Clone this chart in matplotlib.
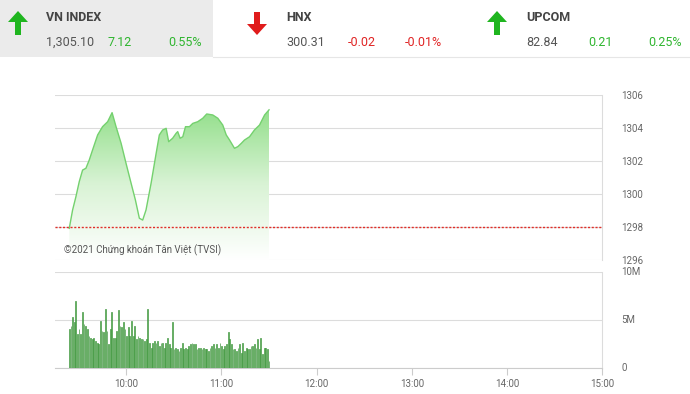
import numpy as np
import matplotlib
matplotlib.use("Agg")
import matplotlib.pyplot as plt
from matplotlib.patches import Polygon, Rectangle
from matplotlib.colors import LinearSegmentedColormap
from matplotlib.ticker import FixedLocator

# ---------------- data ----------------
# minutes since 09:00
idx_time = [24, 26.1, 28.2, 30.3, 32.4, 34.5, 36.6, 38.7, 41.9, 45.0, 48.2, 51.0,
            53.5, 56.7, 59.8, 63.0, 65.7, 68.2, 70.3, 72.4, 75.6, 78.8, 80.8, 82.9,
            85.1, 86.7, 89.2, 91.4, 92.4, 93.9, 95.6, 97.3, 99.8, 101.9, 105.0, 108.2,
            110.7, 114.5, 117.7, 120.8, 123.0, 125.1, 128.2, 130.3, 132.5, 134.5,
            137.7, 140.8, 144.0, 147.2, 150.0]
idx_value = [1297.92, 1299.03, 1299.84, 1300.75, 1301.45, 1301.56, 1302.06, 1302.67,
             1303.58, 1304.08, 1304.38, 1304.93, 1304.08, 1303.07, 1301.86, 1300.65,
             1299.64, 1298.53, 1298.42, 1299.03, 1300.65, 1302.47, 1303.58, 1303.88,
             1303.98, 1303.17, 1303.38, 1303.68, 1303.78, 1303.38, 1303.47, 1304.08,
             1304.08, 1304.28, 1304.38, 1304.59, 1304.85, 1304.79, 1304.59, 1304.18,
             1303.58, 1303.27, 1302.77, 1302.87, 1303.07, 1303.27, 1303.47, 1303.88,
             1304.18, 1304.79, 1305.10]
ref_value = 1297.98

volume_m = [4.05, 4.40, 5.28, 4.75, 6.94, 3.52, 4.05, 3.52, 5.81, 4.58, 4.40, 4.05,
            3.35, 3.17, 2.99, 3.17, 2.82, 2.64, 2.46, 4.93, 3.87, 3.70, 6.16, 3.87,
            2.46, 4.05, 5.88, 3.17, 3.17, 3.87, 5.99, 4.40, 4.23, 4.75, 4.05, 3.35,
            4.23, 3.35, 4.93, 3.35, 4.40, 2.99, 3.35, 3.17, 2.99, 2.99, 2.82, 2.99,
            6.16, 2.64, 2.11, 2.64, 2.82, 2.64, 2.82, 2.29, 2.64, 2.64, 2.11, 2.64,
            3.17, 2.46, 2.11, 4.75, 1.94, 2.11, 1.94, 1.76, 2.11, 2.64, 1.94, 2.11,
            1.94, 2.29, 2.46, 2.64, 2.46, 2.46, 1.94, 2.11, 2.11, 1.94, 2.11, 1.94,
            1.94, 1.76, 2.11, 2.29, 2.46, 2.11, 2.46, 2.11, 2.64, 2.29, 1.94, 2.29,
            2.46, 3.70, 2.99, 2.46, 1.94, 1.94, 1.76, 2.11, 2.46, 1.58, 2.64, 1.76,
            2.11, 1.94, 1.94, 2.29, 2.29, 2.46, 2.11, 2.99, 1.94, 3.17, 1.41, 2.11,
            2.11, 1.94, 0.70]
vol_time = np.linspace(24, 150, len(volume_m))

price_ticks = [1296, 1298, 1300, 1302, 1304, 1306]
vol_ticks = [0, 5, 10]
vol_labels = ["0", "5M", "10M"]
hour_ticks = [60, 120, 180, 240, 300, 360]
hour_labels = ["10:00", "11:00", "12:00", "13:00", "14:00", "15:00"]
x_range = (15, 360)  # 09:15 .. 15:00

header = [
    # name, value, change, pct, up
    ("VN INDEX", "1,305.10", "7.12", "0.55%", True),
    ("HNX", "300.31", "-0.02", "-0.01%", False),
    ("UPCOM", "82.84", "0.21", "0.25%", True),
]

# ---------------- figure ----------------
W, H = 690, 394
fig = plt.figure(figsize=(W / 100, H / 100), dpi=100)
fig.patch.set_facecolor("white")

GREEN_T = "#2fb52f"
RED_T = "#e02424"
GREY = "#666666"
GRID = "#dcdcdc"
hfont = ["Roboto", "DejaVu Sans"]
tfont = ["Roboto", "DejaVu Sans"]

def px_axes(x0, y_top, x1, y_bot):
    return fig.add_axes([x0 / W, 1 - y_bot / H, (x1 - x0) / W, (y_bot - y_top) / H])

# overlay for header (pixel coordinates)
ov = fig.add_axes([0, 0, 1, 1], zorder=-1)
ov.set_xlim(0, W)
ov.set_ylim(H, 0)
ov.axis("off")
ov.add_patch(Rectangle((0, 0), 213, 57, facecolor="#ebebeb", edgecolor="none"))
ov.plot([213, W], [57, 57], color="#e6e6e6", lw=0.8)

col_x = [0, 240, 480]
for (name, val, chg, pct, up), cx in zip(header, col_x):
    ax0 = cx + 18 if cx == 0 else cx + 17
    color = "#1fb51f" if up else "#e01b1b"
    if up:
        pts = [(ax0, 11), (ax0 + 10, 22), (ax0 + 3, 22), (ax0 + 3, 35),
               (ax0 - 3, 35), (ax0 - 3, 22), (ax0 - 10, 22)]
    else:
        pts = [(ax0, 35), (ax0 + 10, 24), (ax0 + 3, 24), (ax0 + 3, 12),
               (ax0 - 3, 12), (ax0 - 3, 24), (ax0 - 10, 24)]
    ov.add_patch(Polygon(pts, closed=True, facecolor=color, edgecolor="none"))
    tx = cx + 46
    vc = GREEN_T if up else RED_T
    ov.text(tx, 17, name, fontsize=9, family=hfont, fontweight="bold",
            color="#444444", va="center", ha="left")
    ov.text(tx, 42, val, fontsize=9, family=hfont, color="#555555",
            va="center", ha="left")
    ov.text(tx + 62, 42, chg, fontsize=9, family=hfont, color=vc,
            va="center", ha="left")
    ov.text(tx + 156, 42, pct, fontsize=9, family=hfont, color=vc,
            va="center", ha="right")

# ---------------- price panel ----------------
ax = px_axes(55, 95, 602, 260)

t = np.array(idx_time)
v = np.array(idx_value)
poly_pts = np.column_stack([np.r_[t, t[-1], t[0]], np.r_[v, 1296, 1296]])
poly = Polygon(poly_pts, closed=True, transform=ax.transData,
               facecolor="none", edgecolor="none")
ax.add_patch(poly)
cmap = LinearSegmentedColormap.from_list("g", ["#ffffff", "#d9f3d5", "#93df8b"])
grad = np.linspace(0, 1, 256).reshape(-1, 1)
im = ax.imshow(grad, extent=[t[0], t[-1], 1296, v.max()], origin="lower",
               cmap=cmap, aspect="auto", zorder=1, interpolation="bilinear")
im.set_clip_path(poly)
ax.plot(t, v, color="#74d16e", lw=1.0, zorder=3)
ax.axhline(ref_value, color="#e0302a", lw=1.0, ls=(0, (1.5, 1.2)), zorder=4)
ax.set_xlim(*x_range)
ax.set_ylim(1296, 1306)

ax.yaxis.set_major_locator(FixedLocator(price_ticks))
ax.yaxis.tick_right()
ax.tick_params(axis="y", length=0, pad=14, labelsize=7, labelcolor=GREY)
for lab in ax.get_yticklabels():
    lab.set_family(tfont)
ax.set_xticks([])
ax.grid(axis="y", color=GRID, lw=0.8, zorder=0)
for s in ["left", "top", "bottom"]:
    ax.spines[s].set_visible(False)
ax.spines["right"].set_color(GRID)
ax.set_axisbelow(True)
ax.text(64, 250, "\u00a92021 Ch\u1ee9ng kho\u00e1n T\u00e2n Vi\u1ec7t (TVSI)",
        transform=ov.transData, fontsize=7, family=tfont, color="#555555",
        va="center", ha="left", zorder=6)

# ---------------- volume panel ----------------
bx = px_axes(55, 272, 602, 368)
bx.bar(vol_time, volume_m, width=0.5, color="#9ad994", edgecolor="#2e8a2e",
       linewidth=0.45, zorder=3)
bx.set_xlim(*x_range)
bx.set_ylim(0, 10)
bx.yaxis.set_major_locator(FixedLocator(vol_ticks))
bx.set_yticklabels(vol_labels)
bx.yaxis.tick_right()
bx.tick_params(axis="y", length=0, pad=14, labelsize=7, labelcolor=GREY)
bx.set_xticks(hour_ticks)
bx.set_xticklabels(hour_labels)
bx.tick_params(axis="x", length=5, width=0.8, color="#cccccc", pad=3,
               labelsize=7, labelcolor=GREY)
for lab in bx.get_yticklabels() + bx.get_xticklabels():
    lab.set_family(tfont)
for lab in bx.get_yticklabels():
    lab.set_va("center")
bx.grid(axis="y", color=GRID, lw=0.8, zorder=0)
for s in ["left", "top"]:
    bx.spines[s].set_visible(False)
bx.spines["right"].set_color(GRID)
bx.spines["bottom"].set_color("#cccccc")
bx.set_axisbelow(True)

fig.savefig("out.png", dpi=100)
